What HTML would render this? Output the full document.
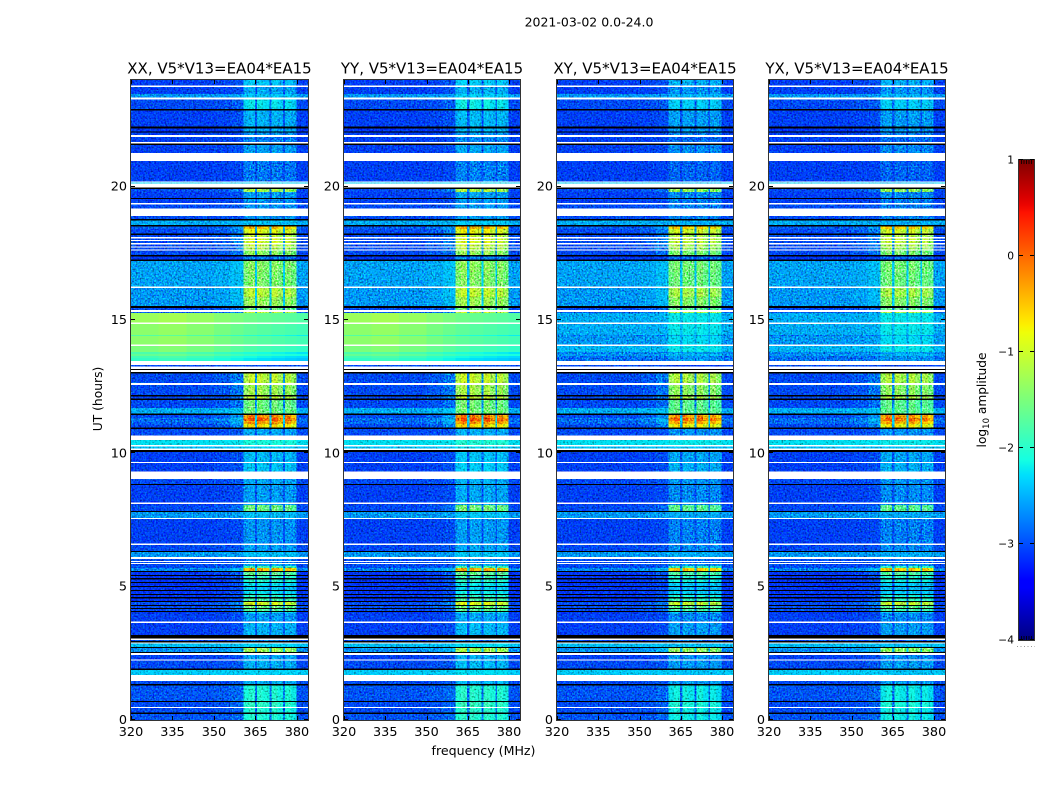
<!DOCTYPE html>
<html lang="en">
<head>
<meta charset="utf-8">
<title>2021-03-02 0.0-24.0</title>
<style>
html,body{margin:0;padding:0;background:#fff;}
body{width:1050px;height:800px;overflow:hidden;}
svg{display:block;}
text{font-family:"DejaVu Sans","Liberation Sans",sans-serif;fill:#000;}
</style>
</head>
<body>
<svg id="chart" xmlns="http://www.w3.org/2000/svg" width="1050" height="800" viewBox="0 0 1050 800">
  <defs>
    <filter id="speckle" x="0" y="0" width="100%" height="100%" color-interpolation-filters="sRGB">
      <feTurbulence type="fractalNoise" baseFrequency="0.62" numOctaves="1" seed="7"/>
      <feColorMatrix type="matrix" values="0.5 0.5 0 0 0  0.5 0.5 0 0 0  0.5 0.5 0 0 0  0 0 0 0 1"/>
      <feComponentTransfer>
        <feFuncR type="linear" slope="3" intercept="-1"/>
        <feFuncG type="linear" slope="3" intercept="-1"/>
        <feFuncB type="linear" slope="3" intercept="-1"/>
      </feComponentTransfer>
    </filter>
    <filter id="speckle-dark" x="0" y="0" width="100%" height="100%" color-interpolation-filters="sRGB">
      <feTurbulence type="fractalNoise" baseFrequency="0.55" numOctaves="1" seed="23"/>
      <feColorMatrix type="matrix" values="0.5 0.5 0 0 0  0.5 0.5 0 0 0  0.5 0.5 0 0 0  0 0 0 0 1"/>
      <feComponentTransfer>
        <feFuncR type="linear" slope="2.6" intercept="-0.3"/>
        <feFuncG type="linear" slope="2.6" intercept="-0.3"/>
        <feFuncB type="linear" slope="2.6" intercept="-0.3"/>
      </feComponentTransfer>
    </filter>
    <linearGradient id="colorbar-gradient" x1="0" y1="1" x2="0" y2="0"></linearGradient>
  </defs>
  <text x="589" y="26.500" font-size="12.5" text-anchor="middle">2021-03-02 0.0-24.0</text>
  <text x="0" y="0" font-size="12.3" text-anchor="middle" transform="translate(102 399) rotate(-90)">UT (hours)</text>
  <text x="483.500" y="755" font-size="12.6" text-anchor="middle">frequency (MHz)</text>
  <text x="0" y="0" font-size="12.2" text-anchor="middle" transform="translate(986 400) rotate(-90)">log<tspan font-size="8.5" dy="3">10</tspan><tspan dy="-3"> amplitude</tspan></text>
  <g id="panels"></g>
  <g id="colorbar"></g>
</svg>
<script>
// ---- Chart data ----
const polTitles = ["XX, V5*V13=EA04*EA15", "YY, V5*V13=EA04*EA15", "XY, V5*V13=EA04*EA15", "YX, V5*V13=EA04*EA15"];
const freqTicks = [320, 335, 350, 365, 380];
const utTicks = [0, 5, 10, 15, 20];
const colorbarTicks = [1, 0, -1, -2, -3, -4];

// Spectral blocks in MHz: off-band, then four sub-bands separated by narrow gaps.
const specEdgesMHz = [320, 330, 340, 350, 356, 360.6, 362.5, 364.8, 365.6, 367.5, 370, 370.8, 373, 375, 375.6, 377.8, 379.9, 384];
const bandWeight = [0, 0, 0, 0.04, 0.12, 0.92, 1, 0.2, 1, 0.92, 0.2, 1, 0.88, 0.2, 0.95, 0.85, 0];
const offTilt = [-0.05, 0, -0.08, -0.18, -0.26, -0.33, -0.33, -0.33, -0.38, -0.38, -0.38, -0.42, -0.42, -0.42, -0.46, -0.46, -0.5];

// Time rows, top to bottom: start UT (hours), off-band and in-band log10 amplitude.
// null = no data (white), -9 = zero amplitude (black).
const rowTopUT = [
 24.000,23.794,23.738,23.475,23.344,23.269,22.913,22.856,22.256,22.181,
 22.069,22.031,21.938,21.863,21.675,21.619,21.563,21.263,20.963,20.194,
 20.156,20.119,19.969,19.913,19.800,19.575,19.538,19.388,19.331,19.181,
 18.900,18.788,18.731,18.563,18.506,18.413,18.244,18.188,18.113,18.056,
 18.000,17.963,17.888,17.831,17.756,17.719,17.644,17.606,17.438,17.381,
 17.269,17.213,16.800,16.256,16.200,15.863,15.525,15.450,15.375,15.300,
 15.263,14.906,14.850,14.438,14.400,14.081,14.025,13.800,13.725,13.650,
 13.575,13.463,13.313,13.256,13.163,13.125,13.050,12.994,12.638,12.563,
 12.188,12.131,12.056,12.000,11.700,11.494,11.438,11.325,11.213,11.100,
 10.969,10.913,10.669,10.500,10.313,10.256,10.181,10.125,10.050,9.675,
 9.638,9.319,9.038,8.850,8.813,8.156,8.100,8.063,7.838,7.800,
 7.575,7.538,6.619,6.563,6.338,6.300,6.113,6.038,5.963,5.925,
 5.888,5.850,5.775,5.700,5.588,5.550,5.438,5.400,5.325,5.269,
 5.175,5.138,5.025,4.988,4.875,4.838,4.725,4.688,4.613,4.556,
 4.463,4.425,4.313,4.275,4.200,4.163,4.088,4.050,4.013,3.694,
 3.638,3.188,3.056,3.000,2.963,2.906,2.869,2.738,2.700,2.550,
 2.513,2.438,2.269,2.231,1.931,1.875,1.688,1.463,1.350,1.294,
 0.713,0.675,0.488,0.450,0.281,0.225];
const rowOff = [
 -3.05,null,-3.05,-2.6,null,-3.0,-9,-3.05,-9,-3.1,
 -9,-3.05,null,-3.05,null,-9,-3.05,null,-3.05,null,
 -2.3,null,-9,-3,-3.05,-9,-3.05,null,-3,null,
 -3,-9,-2.5,-9,-2.9,-3,-9,-3,null,-3,
 null,-3,null,-3,null,-3,null,-3,-9,-3.1,
 -9,-2.55,-2.55,null,-2.6,-2.6,-9,-3,null,-2.9,
 -2.5,null,-2.5,-2.75,-2.6,null,-2.45,-2.7,-2.6,-2.8,
 -2.8,null,-3,null,-9,null,-9,-3,null,-3,
 -9,-3,-9,-3,-2.5,-9,-3,-2.8,-2.85,-3,
 -9,-3,null,-2.25,null,-2.4,null,-9,-3.05,null,
 -3.05,null,-3,-9,-3.05,null,-3.05,-3,-9,-2.6,
 null,-3.05,null,-3,-9,-2.6,null,-3,null,-3,
 null,-3,-3,-2.7,-9,-3.1,-9,-3.1,-9,-3.1,
 -9,-3.1,-9,-3.1,-9,-3.1,-9,-3.1,-9,-3.1,
 -9,-3,-9,-3,-9,-3,-9,-3.1,-3.05,null,
 -3.05,-9,null,-3,-9,null,-2.4,-9,-2.65,-9,
 null,-3.05,null,-3,-9,-2.35,null,-3,-9,-2.95,
 -9,-3,null,-3,-9,-2.95];
const rowBand = [
 -2.35,null,-2.5,-2.35,null,-2.2,-9,-2.45,-9,-2.45,
 -9,-2.6,null,-2.7,null,-9,-2.55,null,-2.75,null,
 -2.3,null,-9,-1.15,-2.55,-9,-2.6,null,-2.6,null,
 -2.6,-9,-2.4,-9,-0.4,-0.8,-9,-1,null,-0.85,
 null,-0.9,null,-1,null,-1.1,null,-1.3,-9,-2.7,
 -9,-1.35,-1.4,null,-1.05,-1.25,-9,-1.5,null,-1.0,
 -2.1,null,-2.1,-2.4,-2.15,null,-2.1,-2.45,-2.3,-2.5,
 -2.5,null,-3,null,-9,null,-9,-1.0,null,-1.2,
 -9,-1.0,-9,-1.5,-1.5,-9,-0.1,0.15,-0.2,-0.6,
 -9,-2.5,null,-2.1,null,-2.3,null,-9,-2.4,null,
 -2.35,null,-2.5,-9,-2.55,null,-2.55,-1.5,-9,-2.4,
 null,-2.6,null,-2.55,-9,-2.4,null,-2.7,null,-2.7,
 null,-2.5,-1.8,-0.35,-9,-1.6,-9,-1.9,-9,-2.0,
 -9,-2.2,-9,-2.3,-9,-2.2,-9,-2,-9,-1.8,
 -9,-0.85,-9,-1.5,-9,-1.7,-9,-2.2,-2.55,null,
 -2.45,-9,null,-2.7,-9,null,-2.3,-9,-1.2,-9,
 null,-2.5,null,-2.45,-9,-2.3,null,-2.45,-9,-2.05,
 -9,-1.95,null,-2.05,-9,-2.05];

// Per-polarisation shifts of in-band level, and the strong co-polar rows near 14-15 UT.
const polBandShift = [0, 0.05, -0.1, -0.1];
const strongRowUT = [15.263, 14.85, 14.438, 14.4, 14.025, 13.8, 13.725, 13.65, 13.575];
const strongCoOff = [-1.25, -1.35, -1.7, -1.35, -1.45, -1.75, -1.6, -1.8, -1.9];

// ---- Layout and scales ----
const NS = "http://www.w3.org/2000/svg";
const plotTop = 80, plotBottom = 720;
const panelFrames = [{l:131,r:308},{l:344,r:520},{l:557,r:733},{l:769,r:945}];
const fMin = 320, fMax = 384, utMin = 0, utMax = 24, vMin = -4, vMax = 1;
const cbar = {l:1019, r:1034, t:160, b:640};

function xScale(frame, f){ return frame.l + (f - fMin) / (fMax - fMin) * (frame.r - frame.l); }
function yScale(ut){ return plotBottom - (ut - utMin) / (utMax - utMin) * (plotBottom - plotTop); }
function cbarY(v){ return cbar.b - (v - vMin) / (vMax - vMin) * (cbar.b - cbar.t); }
function minusLabel(n){ return String(n).replace("-", "\u2212"); }

function ramp(x, pts){
  for (let i = 1; i < pts.length; i++) {
    if (x <= pts[i][0]) {
      const a = pts[i-1], b = pts[i];
      return a[1] + (b[1]-a[1]) * (x-a[0]) / (b[0]-a[0]);
    }
  }
  return pts[pts.length-1][1];
}
function jet(x){
  x = Math.max(0, Math.min(1, x));
  const r = ramp(x, [[0,0],[0.35,0],[0.66,1],[0.89,1],[1,0.5]]);
  const g = ramp(x, [[0,0],[0.125,0],[0.375,1],[0.64,1],[0.91,0],[1,0]]);
  const b = ramp(x, [[0,0.5],[0.11,1],[0.34,1],[0.65,0],[1,0]]);
  return "rgb(" + Math.round(r*255) + "," + Math.round(g*255) + "," + Math.round(b*255) + ")";
}
function colorOf(v){ return jet((v - vMin) / (vMax - vMin)); }

function make(tag, attrs, parent){
  const n = document.createElementNS(NS, tag);
  for (const k in attrs) n.setAttribute(k, attrs[k]);
  parent.appendChild(n);
  return n;
}

// ---- Panels ----
const panelsRoot = document.getElementById("panels");
polTitles.forEach(function(title, p){
  const frame = panelFrames[p];
  const w = frame.r - frame.l;
  const h = plotBottom - plotTop;
  const g = make("g", {}, panelsRoot);
  
  

  const cellLayer = make("g", {"shape-rendering":"crispEdges"}, g);
  
  

  const noise = make("rect", {x:frame.l, y:plotTop, width:w, height:h, fill:"#808080", filter:"url(#speckle)", opacity:"0.8", style:"mix-blend-mode:overlay"}, g);
  
  

  const darkNoise = make("rect", {x:frame.l, y:plotTop, width:w, height:h, fill:"#808080", filter:"url(#speckle-dark)", opacity:"0.75", style:"mix-blend-mode:multiply"}, g);
  
  

  const topLayer = make("g", {"shape-rendering":"crispEdges"}, g);
  
  

  rowTopUT.forEach(function(top, i){
    const bottom = i + 1 < rowTopUT.length ? rowTopUT[i+1] : utMin;
    const y0 = yScale(top), y1 = yScale(bottom);
    const off = rowOff[i], band = rowBand[i];
    if (off === null || off === -9) {
      const flag = make("rect", {x:frame.l, y:y0, width:w, height:y1-y0, fill: off === null ? "#ffffff" : "#000000"}, topLayer);
      
      
      return;
    }
    const strongIdx = strongRowUT.indexOf(top);
    const isStrong = strongIdx >= 0 && p < 2;
    bandWeight.forEach(function(weight, b){
      let v;
      if (isStrong) {
        v = strongCoOff[strongIdx] + offTilt[b];
      } else {
        const bandLevel = band + polBandShift[p];
        v = off + (bandLevel - off) * weight;
      }
      const x0 = xScale(frame, specEdgesMHz[b]);
      const x1 = xScale(frame, specEdgesMHz[b+1]);
      const cell = make("rect", {x:x0, y:y0, width:x1-x0, height:y1-y0, fill:colorOf(v)}, isStrong ? topLayer : cellLayer);
      
      
    });
  });

  const border = make("rect", {x:frame.l-0.5, y:plotTop-0.5, width:w+1, height:h+1, fill:"none", stroke:"#333333", "stroke-width":1, "shape-rendering":"crispEdges"}, g);
  
  

  freqTicks.forEach(function(f){
    const x = Math.round(xScale(frame, f)) + 0.5;
    const tb = make("line", {x1:x, x2:x, y1:plotBottom, y2:plotBottom-4, stroke:"#000", "stroke-width":1}, g);
    
    
    const tt = make("line", {x1:x, x2:x, y1:plotTop, y2:plotTop+4, stroke:"#000", "stroke-width":1}, g);
    
    
    const lab = make("text", {x:xScale(frame, f), y:plotBottom+16, "font-size":"12.8", "text-anchor":"middle"}, g);
    
    
    lab.textContent = String(f);
  });

  utTicks.forEach(function(t){
    const y = Math.round(yScale(t)) - 0.5;
    const tl = make("line", {x1:frame.l, x2:frame.l+4, y1:y, y2:y, stroke:"#000", "stroke-width":1}, g);
    
    
    const tr = make("line", {x1:frame.r, x2:frame.r-4, y1:y, y2:y, stroke:"#000", "stroke-width":1}, g);
    
    
    const lab = make("text", {x:frame.l-4, y:yScale(t)+4, "font-size":"12.8", "text-anchor":"end"}, g);
    
    
    lab.textContent = String(t);
  });

  const ttl = make("text", {x:(frame.l+frame.r)/2, y:plotTop-6.5, "font-size":"15", "text-anchor":"middle"}, g);
  
  
  ttl.textContent = title;
});

// ---- Colorbar ----
const grad = document.getElementById("colorbar-gradient");
for (let i = 0; i <= 64; i++) {
  make("stop", {offset:(i/64), "stop-color":jet(i/64)}, grad);
}
const cbRoot = document.getElementById("colorbar");
const cbFill = make("rect", {x:cbar.l, y:cbar.t, width:cbar.r-cbar.l, height:cbar.b-cbar.t, fill:"url(#colorbar-gradient)"}, cbRoot);


const cbBorder = make("rect", {x:cbar.l-0.5, y:cbar.t-0.5, width:cbar.r-cbar.l+1, height:cbar.b-cbar.t+1, fill:"none", stroke:"#333333", "stroke-width":1, "shape-rendering":"crispEdges"}, cbRoot);


colorbarTicks.forEach(function(v){
  const y = Math.round(cbarY(v)) - 0.5;
  const a = make("line", {x1:cbar.l, x2:cbar.l+4, y1:y, y2:y, stroke:"#000", "stroke-width":1}, cbRoot);
  
  
  const b = make("line", {x1:cbar.r, x2:cbar.r-4, y1:y, y2:y, stroke:"#000", "stroke-width":1}, cbRoot);
  
  
  const lab = make("text", {x:cbar.l-5, y:cbarY(v)+3.5, "font-size":"10.67", "text-anchor":"end"}, cbRoot);
  
  
  lab.textContent = minusLabel(v);
});
[0, 1, 2, 3, 4].forEach(function(k){
  const x = cbar.l + 2.5 + k * 2.5;
  const t = make("line", {x1:x, x2:x, y1:cbar.t, y2:cbar.t+4, stroke:"#000", "stroke-width":0.8}, cbRoot);
  
  
  const u = make("line", {x1:x, x2:x, y1:cbar.b, y2:cbar.b-4, stroke:"#000", "stroke-width":0.8}, cbRoot);
  
  
});
const dots = make("line", {x1:cbar.l-2, x2:cbar.r+1, y1:646.5, y2:646.5, stroke:"#999", "stroke-width":1, "stroke-dasharray":"1 2.5"}, cbRoot);


</script>
</body>
</html>
